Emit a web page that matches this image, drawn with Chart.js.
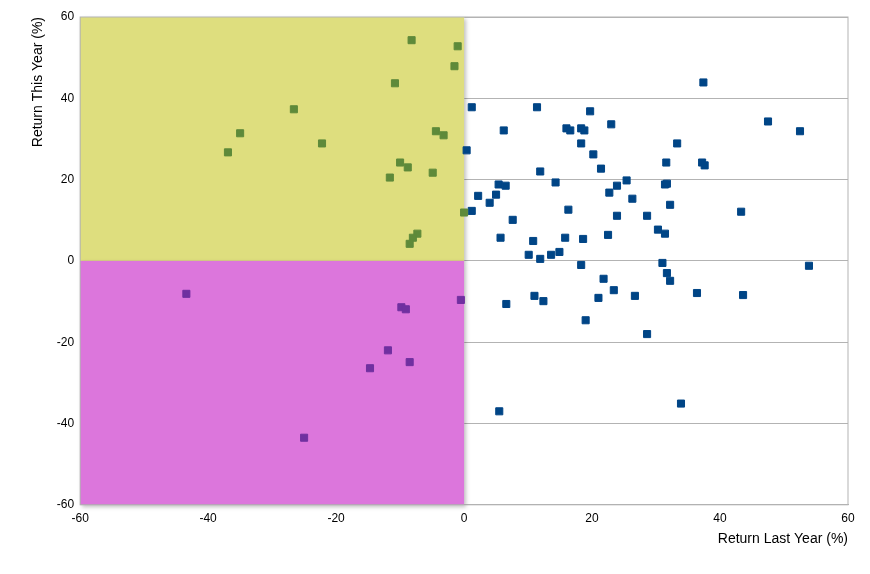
<!DOCTYPE html>
<html><head><meta charset="utf-8">
<script src="https://cdn.jsdelivr.net/npm/chart.js@4/dist/chart.umd.min.js"></script>
<style>body{margin:0;background:#fff}#wrap{width:870px;height:574px}</style>
</head><body><div id="wrap"><canvas id="c"></canvas></div>
<script>
// --- Data ---
const blueX = [37.4,1.2,11.4,19.7,23,6.2,16,16.6,18.3,18.8,52.5,47.5,33.3,18.3,0.4,20.2,37.2,37.6,31.6,11.9,21.4,25.4,31.4,31.7,14.3,5.4,6.5,23.9,5,2.2,22.7,26.3,4,32.2,1.2,16.3,43.3,28.6,23.9,7.6,30.3,31.4,22.5,10.8,5.7,15.8,18.6,14.9,13.6,10.1,11.9,18.3,31,53.9,31.7,21.8,32.2,23.4,26.7,36.4,43.6,11,21,6.6,12.4,19,28.6,5.5,33.9];
const blueY = [43.9,37.8,37.8,36.8,33.6,32.1,32.6,32.1,32.6,32.1,31.9,34.3,28.9,28.9,27.2,26.2,24.2,23.5,24.2,22,22.7,19.8,18.8,19,19.3,18.8,18.5,18.5,16.3,16,16.8,15.3,14.3,13.8,12.3,12.6,12.1,11.1,11.1,10.1,7.7,6.7,6.4,4.9,5.7,5.7,5.4,2.2,1.5,1.5,0.5,-1,-0.5,-1.2,-3,-4.4,-4.9,-7.2,-8.6,-7.9,-8.4,-8.6,-9.1,-10.6,-9.9,-14.6,-18,-37,-35.1];
const greenX = [-8.2,-1,-1.5,-10.8,-26.6,-35,-4.4,-3.2,-22.2,-36.9,-10,-8.8,-4.9,-11.6,0,-7.3,-8,-8.5];
const greenY = [54.3,52.8,47.9,43.7,37.3,31.4,31.9,30.9,28.9,26.7,24.2,23,21.7,20.5,11.9,6.7,5.7,4.2];
const purpleX = [-43.4,-0.5,-9.8,-9.1,-11.9,-14.7,-8.5,-25];
const purpleY = [-8.1,-9.6,-11.4,-11.9,-22,-26.4,-24.9,-43.5];
const xTicks = [-60,-40,-20,0,20,40,60];
const yTicks = [-60,-40,-20,0,20,40,60];
// shaded quadrants: [x0,x1,y0,y1,color]
const zones = [[-60,0,0,60,'#dede7e'],[-60,0,-60,0,'#dc76dc']];

const pts = (xs,ys)=>xs.map((x,i)=>({x,y:ys[i]}));
const zonePlugin = {
  id:'zones',
  beforeDatasetsDraw(ch){
    const {ctx, scales:{x,y}} = ch;
    ctx.save();
    for(const [x0,x1,y0,y1,col] of zones){
      ctx.fillStyle = col;
      ctx.shadowColor = 'rgba(0,0,0,0.25)'; ctx.shadowBlur = 4; ctx.shadowOffsetX = 2; ctx.shadowOffsetY = 2;
      ctx.fillRect(x.getPixelForValue(x0), y.getPixelForValue(y1), x.getPixelForValue(x1)-x.getPixelForValue(x0), y.getPixelForValue(y0)-y.getPixelForValue(y1));
    }
    ctx.restore();
  }
};
const ds = (data,col)=>({data, pointStyle:'rect', pointRadius:5, backgroundColor:col, borderColor:col, borderWidth:1, showLine:false});

new Chart(document.getElementById('c'), {
  type:'scatter',
  data:{datasets:[ds(pts(greenX,greenY),'#5e8a3a'), ds(pts(purpleX,purpleY),'#7030a0'), ds(pts(blueX,blueY),'#004586')]},
  options:{
    responsive:true, maintainAspectRatio:false, animation:false,
    layout:{padding:{left:26,right:22,top:17,bottom:22}},
    plugins:{legend:{display:false}, tooltip:{enabled:false}},
    scales:{
      x:{min:-60,max:60, afterBuildTicks:a=>{a.ticks=xTicks.map(v=>({value:v}))},
        grid:{display:false, drawTicks:true, tickLength:4, color:'#b3b3b3'}, border:{color:'#b3b3b3'},
        ticks:{color:'#000', font:{family:'Liberation Sans', size:12}},
        title:{display:true, text:'Return Last Year (%)', align:'end', color:'#000', font:{family:'Liberation Sans', size:14}, padding:{top:2}}},
      y:{min:-60,max:60, afterBuildTicks:a=>{a.ticks=yTicks.map(v=>({value:v}))},
        grid:{color:'#b3b3b3', drawTicks:false}, border:{color:'#b3b3b3'},
        ticks:{color:'#000', padding:6, font:{family:'Liberation Sans', size:12}},
        title:{display:true, text:'Return This Year (%)', align:'end', color:'#000', font:{family:'Liberation Sans', size:14}}}
    }
  },
  plugins:[zonePlugin, {id:'frame', afterDraw(ch){const {ctx,chartArea:a}=ch; ctx.save(); ctx.strokeStyle='#b3b3b3'; ctx.strokeRect(a.left,a.top,a.right-a.left,a.bottom-a.top); ctx.restore();}}]
});
</script></body></html>
